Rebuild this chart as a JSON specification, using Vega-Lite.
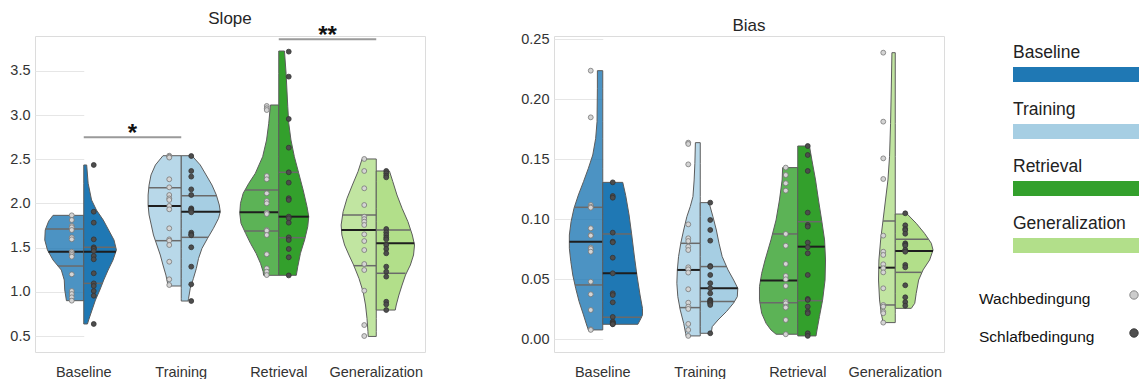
{
"$schema":"https://vega.github.io/schema/vega-lite/v6.json",
"background":"white",
"padding":{"left":9,"top":9,"right":0,"bottom":0},
"config":{
 "font":"Liberation Sans",
 "view":{"stroke":"#dcdcdc"},
 "title":{"font":"Liberation Sans","fontSize":17,"fontWeight":"normal","color":"#262626","offset":-4},
 "axis":{"title":null,"domain":false,"ticks":false,"tickSize":0,"labelFont":"Liberation Sans","labelFontSize":14.5,"labelColor":"#333333","gridColor":"#e6e6e6","gridWidth":1},
 "axisX":{"grid":false,"labelPadding":13,"labelAngle":0},
 "axisY":{"grid":true,"labelPadding":5}
},
"datasets":{
"slope_points":[
{"phase":"Baseline","cond":"Wach","value":1.866},{"phase":"Baseline","cond":"Wach","value":1.813},{"phase":"Baseline","cond":"Wach","value":1.745},{"phase":"Baseline","cond":"Wach","value":1.73},{"phase":"Baseline","cond":"Wach","value":1.7},{"phase":"Baseline","cond":"Wach","value":1.617},{"phase":"Baseline","cond":"Wach","value":1.594},{"phase":"Baseline","cond":"Wach","value":1.454},{"phase":"Baseline","cond":"Wach","value":1.436},{"phase":"Baseline","cond":"Wach","value":1.417},{"phase":"Baseline","cond":"Wach","value":1.398},{"phase":"Baseline","cond":"Wach","value":1.198},{"phase":"Baseline","cond":"Wach","value":1.009},{"phase":"Baseline","cond":"Wach","value":0.975},{"phase":"Baseline","cond":"Wach","value":0.938},{"phase":"Baseline","cond":"Wach","value":0.9},
{"phase":"Baseline","cond":"Schlaf","value":2.436},{"phase":"Baseline","cond":"Schlaf","value":1.907},{"phase":"Baseline","cond":"Schlaf","value":1.783},{"phase":"Baseline","cond":"Schlaf","value":1.594},{"phase":"Baseline","cond":"Schlaf","value":1.504},{"phase":"Baseline","cond":"Schlaf","value":1.492},{"phase":"Baseline","cond":"Schlaf","value":1.485},{"phase":"Baseline","cond":"Schlaf","value":1.462},{"phase":"Baseline","cond":"Schlaf","value":1.406},{"phase":"Baseline","cond":"Schlaf","value":1.368},{"phase":"Baseline","cond":"Schlaf","value":1.21},{"phase":"Baseline","cond":"Schlaf","value":1.096},{"phase":"Baseline","cond":"Schlaf","value":1.066},{"phase":"Baseline","cond":"Schlaf","value":1.009},{"phase":"Baseline","cond":"Schlaf","value":0.956},{"phase":"Baseline","cond":"Schlaf","value":0.636},
{"phase":"Training","cond":"Wach","value":2.541},{"phase":"Training","cond":"Wach","value":2.53},{"phase":"Training","cond":"Wach","value":2.52},{"phase":"Training","cond":"Wach","value":2.274},{"phase":"Training","cond":"Wach","value":2.183},{"phase":"Training","cond":"Wach","value":2.096},{"phase":"Training","cond":"Wach","value":2.058},{"phase":"Training","cond":"Wach","value":2.04},{"phase":"Training","cond":"Wach","value":1.972},{"phase":"Training","cond":"Wach","value":1.934},{"phase":"Training","cond":"Wach","value":1.719},{"phase":"Training","cond":"Wach","value":1.594},{"phase":"Training","cond":"Wach","value":1.579},{"phase":"Training","cond":"Wach","value":1.53},{"phase":"Training","cond":"Wach","value":1.341},{"phase":"Training","cond":"Wach","value":1.142},{"phase":"Training","cond":"Wach","value":1.077},
{"phase":"Training","cond":"Schlaf","value":2.537},{"phase":"Training","cond":"Schlaf","value":2.368},{"phase":"Training","cond":"Schlaf","value":2.304},{"phase":"Training","cond":"Schlaf","value":2.16},{"phase":"Training","cond":"Schlaf","value":2.096},{"phase":"Training","cond":"Schlaf","value":1.945},{"phase":"Training","cond":"Schlaf","value":1.934},{"phase":"Training","cond":"Schlaf","value":1.926},{"phase":"Training","cond":"Schlaf","value":1.915},{"phase":"Training","cond":"Schlaf","value":1.9},{"phase":"Training","cond":"Schlaf","value":1.67},{"phase":"Training","cond":"Schlaf","value":1.651},{"phase":"Training","cond":"Schlaf","value":1.64},{"phase":"Training","cond":"Schlaf","value":1.504},{"phase":"Training","cond":"Schlaf","value":1.285},{"phase":"Training","cond":"Schlaf","value":1.085},{"phase":"Training","cond":"Schlaf","value":0.896},
{"phase":"Retrieval","cond":"Wach","value":3.104},{"phase":"Retrieval","cond":"Wach","value":3.078},{"phase":"Retrieval","cond":"Wach","value":3.058},{"phase":"Retrieval","cond":"Wach","value":2.311},{"phase":"Retrieval","cond":"Wach","value":2.274},{"phase":"Retrieval","cond":"Wach","value":2.115},{"phase":"Retrieval","cond":"Wach","value":2.028},{"phase":"Retrieval","cond":"Wach","value":2.002},{"phase":"Retrieval","cond":"Wach","value":1.896},{"phase":"Retrieval","cond":"Wach","value":1.881},{"phase":"Retrieval","cond":"Wach","value":1.7},{"phase":"Retrieval","cond":"Wach","value":1.692},{"phase":"Retrieval","cond":"Wach","value":1.643},{"phase":"Retrieval","cond":"Wach","value":1.425},{"phase":"Retrieval","cond":"Wach","value":1.266},{"phase":"Retrieval","cond":"Wach","value":1.228},{"phase":"Retrieval","cond":"Wach","value":1.19},
{"phase":"Retrieval","cond":"Schlaf","value":3.719},{"phase":"Retrieval","cond":"Schlaf","value":3.436},{"phase":"Retrieval","cond":"Schlaf","value":2.957},{"phase":"Retrieval","cond":"Schlaf","value":2.632},{"phase":"Retrieval","cond":"Schlaf","value":2.353},{"phase":"Retrieval","cond":"Schlaf","value":2.236},{"phase":"Retrieval","cond":"Schlaf","value":2.059},{"phase":"Retrieval","cond":"Schlaf","value":2.04},{"phase":"Retrieval","cond":"Schlaf","value":1.851},{"phase":"Retrieval","cond":"Schlaf","value":1.832},{"phase":"Retrieval","cond":"Schlaf","value":1.783},{"phase":"Retrieval","cond":"Schlaf","value":1.617},{"phase":"Retrieval","cond":"Schlaf","value":1.587},{"phase":"Retrieval","cond":"Schlaf","value":1.485},{"phase":"Retrieval","cond":"Schlaf","value":1.391},{"phase":"Retrieval","cond":"Schlaf","value":1.186},
{"phase":"Generalization","cond":"Wach","value":2.504},{"phase":"Generalization","cond":"Wach","value":2.368},{"phase":"Generalization","cond":"Wach","value":2.172},{"phase":"Generalization","cond":"Wach","value":1.983},{"phase":"Generalization","cond":"Wach","value":1.851},{"phase":"Generalization","cond":"Wach","value":1.823},{"phase":"Generalization","cond":"Wach","value":1.794},{"phase":"Generalization","cond":"Wach","value":1.757},{"phase":"Generalization","cond":"Wach","value":1.651},{"phase":"Generalization","cond":"Wach","value":1.575},{"phase":"Generalization","cond":"Wach","value":1.473},{"phase":"Generalization","cond":"Wach","value":1.315},{"phase":"Generalization","cond":"Wach","value":1.247},{"phase":"Generalization","cond":"Wach","value":1.013},{"phase":"Generalization","cond":"Wach","value":0.624},{"phase":"Generalization","cond":"Wach","value":0.5},
{"phase":"Generalization","cond":"Schlaf","value":2.368},{"phase":"Generalization","cond":"Schlaf","value":2.342},{"phase":"Generalization","cond":"Schlaf","value":2.315},{"phase":"Generalization","cond":"Schlaf","value":2.296},{"phase":"Generalization","cond":"Schlaf","value":1.711},{"phase":"Generalization","cond":"Schlaf","value":1.674},{"phase":"Generalization","cond":"Schlaf","value":1.643},{"phase":"Generalization","cond":"Schlaf","value":1.613},{"phase":"Generalization","cond":"Schlaf","value":1.594},{"phase":"Generalization","cond":"Schlaf","value":1.53},{"phase":"Generalization","cond":"Schlaf","value":1.485},{"phase":"Generalization","cond":"Schlaf","value":1.436},{"phase":"Generalization","cond":"Schlaf","value":1.285},{"phase":"Generalization","cond":"Schlaf","value":1.228},{"phase":"Generalization","cond":"Schlaf","value":1.172},{"phase":"Generalization","cond":"Schlaf","value":0.888},{"phase":"Generalization","cond":"Schlaf","value":0.858},{"phase":"Generalization","cond":"Schlaf","value":0.794}
],
"bias_points":[
{"phase":"Baseline","cond":"Wach","value":0.2239},{"phase":"Baseline","cond":"Wach","value":0.185},{"phase":"Baseline","cond":"Wach","value":0.1119},{"phase":"Baseline","cond":"Wach","value":0.1105},{"phase":"Baseline","cond":"Wach","value":0.1097},{"phase":"Baseline","cond":"Wach","value":0.0925},{"phase":"Baseline","cond":"Wach","value":0.0869},{"phase":"Baseline","cond":"Wach","value":0.0864},{"phase":"Baseline","cond":"Wach","value":0.0764},{"phase":"Baseline","cond":"Wach","value":0.0753},{"phase":"Baseline","cond":"Wach","value":0.073},{"phase":"Baseline","cond":"Wach","value":0.048},{"phase":"Baseline","cond":"Wach","value":0.0375},{"phase":"Baseline","cond":"Wach","value":0.0244},{"phase":"Baseline","cond":"Wach","value":0.0083},{"phase":"Baseline","cond":"Wach","value":0.0078},
{"phase":"Baseline","cond":"Schlaf","value":0.1308},{"phase":"Baseline","cond":"Schlaf","value":0.1194},{"phase":"Baseline","cond":"Schlaf","value":0.118},{"phase":"Baseline","cond":"Schlaf","value":0.0889},{"phase":"Baseline","cond":"Schlaf","value":0.0814},{"phase":"Baseline","cond":"Schlaf","value":0.0808},{"phase":"Baseline","cond":"Schlaf","value":0.068},{"phase":"Baseline","cond":"Schlaf","value":0.055},{"phase":"Baseline","cond":"Schlaf","value":0.0383},{"phase":"Baseline","cond":"Schlaf","value":0.0369},{"phase":"Baseline","cond":"Schlaf","value":0.0308},{"phase":"Baseline","cond":"Schlaf","value":0.0186},{"phase":"Baseline","cond":"Schlaf","value":0.0147},{"phase":"Baseline","cond":"Schlaf","value":0.0142},{"phase":"Baseline","cond":"Schlaf","value":0.0133},{"phase":"Baseline","cond":"Schlaf","value":0.0128},{"phase":"Baseline","cond":"Schlaf","value":0.0125},
{"phase":"Training","cond":"Wach","value":0.1639},{"phase":"Training","cond":"Wach","value":0.1628},{"phase":"Training","cond":"Wach","value":0.1458},{"phase":"Training","cond":"Wach","value":0.0958},{"phase":"Training","cond":"Wach","value":0.0842},{"phase":"Training","cond":"Wach","value":0.0819},{"phase":"Training","cond":"Wach","value":0.0772},{"phase":"Training","cond":"Wach","value":0.0744},{"phase":"Training","cond":"Wach","value":0.06},{"phase":"Training","cond":"Wach","value":0.0583},{"phase":"Training","cond":"Wach","value":0.0556},{"phase":"Training","cond":"Wach","value":0.0417},{"phase":"Training","cond":"Wach","value":0.0305},{"phase":"Training","cond":"Wach","value":0.0272},{"phase":"Training","cond":"Wach","value":0.0253},{"phase":"Training","cond":"Wach","value":0.0128},{"phase":"Training","cond":"Wach","value":0.0078},{"phase":"Training","cond":"Wach","value":0.0028},
{"phase":"Training","cond":"Schlaf","value":0.1139},{"phase":"Training","cond":"Schlaf","value":0.0994},{"phase":"Training","cond":"Schlaf","value":0.0911},{"phase":"Training","cond":"Schlaf","value":0.0822},{"phase":"Training","cond":"Schlaf","value":0.0611},{"phase":"Training","cond":"Schlaf","value":0.0605},{"phase":"Training","cond":"Schlaf","value":0.0536},{"phase":"Training","cond":"Schlaf","value":0.0467},{"phase":"Training","cond":"Schlaf","value":0.0425},{"phase":"Training","cond":"Schlaf","value":0.0383},{"phase":"Training","cond":"Schlaf","value":0.0328},{"phase":"Training","cond":"Schlaf","value":0.0322},{"phase":"Training","cond":"Schlaf","value":0.0314},{"phase":"Training","cond":"Schlaf","value":0.0306},{"phase":"Training","cond":"Schlaf","value":0.03},{"phase":"Training","cond":"Schlaf","value":0.0286},{"phase":"Training","cond":"Schlaf","value":0.005},
{"phase":"Retrieval","cond":"Wach","value":0.1431},{"phase":"Retrieval","cond":"Wach","value":0.1369},{"phase":"Retrieval","cond":"Wach","value":0.13},{"phase":"Retrieval","cond":"Wach","value":0.1239},{"phase":"Retrieval","cond":"Wach","value":0.0878},{"phase":"Retrieval","cond":"Wach","value":0.078},{"phase":"Retrieval","cond":"Wach","value":0.0628},{"phase":"Retrieval","cond":"Wach","value":0.0528},{"phase":"Retrieval","cond":"Wach","value":0.05},{"phase":"Retrieval","cond":"Wach","value":0.0444},{"phase":"Retrieval","cond":"Wach","value":0.0314},{"phase":"Retrieval","cond":"Wach","value":0.03},{"phase":"Retrieval","cond":"Wach","value":0.0272},{"phase":"Retrieval","cond":"Wach","value":0.0264},{"phase":"Retrieval","cond":"Wach","value":0.0161},{"phase":"Retrieval","cond":"Wach","value":0.0042},
{"phase":"Retrieval","cond":"Schlaf","value":0.1611},{"phase":"Retrieval","cond":"Schlaf","value":0.1536},{"phase":"Retrieval","cond":"Schlaf","value":0.1403},{"phase":"Retrieval","cond":"Schlaf","value":0.1056},{"phase":"Retrieval","cond":"Schlaf","value":0.0953},{"phase":"Retrieval","cond":"Schlaf","value":0.0939},{"phase":"Retrieval","cond":"Schlaf","value":0.0806},{"phase":"Retrieval","cond":"Schlaf","value":0.0767},{"phase":"Retrieval","cond":"Schlaf","value":0.0717},{"phase":"Retrieval","cond":"Schlaf","value":0.0536},{"phase":"Retrieval","cond":"Schlaf","value":0.0336},{"phase":"Retrieval","cond":"Schlaf","value":0.0328},{"phase":"Retrieval","cond":"Schlaf","value":0.0272},{"phase":"Retrieval","cond":"Schlaf","value":0.023},{"phase":"Retrieval","cond":"Schlaf","value":0.0217},{"phase":"Retrieval","cond":"Schlaf","value":0.005},{"phase":"Retrieval","cond":"Schlaf","value":0.0028},
{"phase":"Generalization","cond":"Wach","value":0.2389},{"phase":"Generalization","cond":"Wach","value":0.1814},{"phase":"Generalization","cond":"Wach","value":0.1508},{"phase":"Generalization","cond":"Wach","value":0.1336},{"phase":"Generalization","cond":"Wach","value":0.0864},{"phase":"Generalization","cond":"Wach","value":0.073},{"phase":"Generalization","cond":"Wach","value":0.0703},{"phase":"Generalization","cond":"Wach","value":0.0625},{"phase":"Generalization","cond":"Wach","value":0.0592},{"phase":"Generalization","cond":"Wach","value":0.0558},{"phase":"Generalization","cond":"Wach","value":0.0425},{"phase":"Generalization","cond":"Wach","value":0.0286},{"phase":"Generalization","cond":"Wach","value":0.0272},{"phase":"Generalization","cond":"Wach","value":0.023},{"phase":"Generalization","cond":"Wach","value":0.0217},{"phase":"Generalization","cond":"Wach","value":0.0139},
{"phase":"Generalization","cond":"Schlaf","value":0.105},{"phase":"Generalization","cond":"Schlaf","value":0.095},{"phase":"Generalization","cond":"Schlaf","value":0.092},{"phase":"Generalization","cond":"Schlaf","value":0.091},{"phase":"Generalization","cond":"Schlaf","value":0.088},{"phase":"Generalization","cond":"Schlaf","value":0.08},{"phase":"Generalization","cond":"Schlaf","value":0.079},{"phase":"Generalization","cond":"Schlaf","value":0.078},{"phase":"Generalization","cond":"Schlaf","value":0.074},{"phase":"Generalization","cond":"Schlaf","value":0.0745},{"phase":"Generalization","cond":"Schlaf","value":0.073},{"phase":"Generalization","cond":"Schlaf","value":0.062},{"phase":"Generalization","cond":"Schlaf","value":0.06},{"phase":"Generalization","cond":"Schlaf","value":0.045},{"phase":"Generalization","cond":"Schlaf","value":0.035},{"phase":"Generalization","cond":"Schlaf","value":0.031},{"phase":"Generalization","cond":"Schlaf","value":0.028}
],
"slope_violins":[
{"phase":"Baseline","cond":"Wach","part":"outline","value":1.866,"density":0.63},{"phase":"Baseline","cond":"Wach","part":"outline","value":1.8,"density":0.72},{"phase":"Baseline","cond":"Wach","part":"outline","value":1.7,"density":0.79},{"phase":"Baseline","cond":"Wach","part":"outline","value":1.587,"density":0.8},{"phase":"Baseline","cond":"Wach","part":"outline","value":1.474,"density":0.745},{"phase":"Baseline","cond":"Wach","part":"outline","value":1.36,"density":0.63},{"phase":"Baseline","cond":"Wach","part":"outline","value":1.247,"density":0.46},{"phase":"Baseline","cond":"Wach","part":"outline","value":1.134,"density":0.4},{"phase":"Baseline","cond":"Wach","part":"outline","value":1.021,"density":0.39},{"phase":"Baseline","cond":"Wach","part":"outline","value":0.9,"density":0.355},
{"phase":"Baseline","cond":"Wach","part":"q3","value":1.711,"density":0.78},{"phase":"Baseline","cond":"Wach","part":"median","value":1.455,"density":0.725},{"phase":"Baseline","cond":"Wach","part":"q1","value":1.292,"density":0.53},
{"phase":"Baseline","cond":"Schlaf","part":"outline","value":2.436,"density":0.06},{"phase":"Baseline","cond":"Schlaf","part":"outline","value":2.229,"density":0.09},{"phase":"Baseline","cond":"Schlaf","part":"outline","value":2.04,"density":0.16},{"phase":"Baseline","cond":"Schlaf","part":"outline","value":1.926,"density":0.26},{"phase":"Baseline","cond":"Schlaf","part":"outline","value":1.813,"density":0.4},{"phase":"Baseline","cond":"Schlaf","part":"outline","value":1.7,"density":0.51},{"phase":"Baseline","cond":"Schlaf","part":"outline","value":1.587,"density":0.62},{"phase":"Baseline","cond":"Schlaf","part":"outline","value":1.474,"density":0.67},{"phase":"Baseline","cond":"Schlaf","part":"outline","value":1.36,"density":0.6},{"phase":"Baseline","cond":"Schlaf","part":"outline","value":1.247,"density":0.5},{"phase":"Baseline","cond":"Schlaf","part":"outline","value":1.134,"density":0.41},{"phase":"Baseline","cond":"Schlaf","part":"outline","value":1.021,"density":0.33},{"phase":"Baseline","cond":"Schlaf","part":"outline","value":0.907,"density":0.24},{"phase":"Baseline","cond":"Schlaf","part":"outline","value":0.794,"density":0.17},{"phase":"Baseline","cond":"Schlaf","part":"outline","value":0.681,"density":0.1},{"phase":"Baseline","cond":"Schlaf","part":"outline","value":0.636,"density":0.076},
{"phase":"Baseline","cond":"Schlaf","part":"q3","value":1.504,"density":0.657},{"phase":"Baseline","cond":"Schlaf","part":"median","value":1.455,"density":0.66},{"phase":"Baseline","cond":"Schlaf","part":"q1","value":1.096,"density":0.383},
{"phase":"Training","cond":"Wach","part":"outline","value":2.541,"density":0.375},{"phase":"Training","cond":"Wach","part":"outline","value":2.436,"density":0.53},{"phase":"Training","cond":"Wach","part":"outline","value":2.323,"density":0.62},{"phase":"Training","cond":"Wach","part":"outline","value":2.209,"density":0.66},{"phase":"Training","cond":"Wach","part":"outline","value":2.096,"density":0.68},{"phase":"Training","cond":"Wach","part":"outline","value":1.983,"density":0.68},{"phase":"Training","cond":"Wach","part":"outline","value":1.87,"density":0.66},{"phase":"Training","cond":"Wach","part":"outline","value":1.757,"density":0.615},{"phase":"Training","cond":"Wach","part":"outline","value":1.643,"density":0.57},{"phase":"Training","cond":"Wach","part":"outline","value":1.53,"density":0.5},{"phase":"Training","cond":"Wach","part":"outline","value":1.417,"density":0.43},{"phase":"Training","cond":"Wach","part":"outline","value":1.304,"density":0.375},{"phase":"Training","cond":"Wach","part":"outline","value":1.19,"density":0.315},{"phase":"Training","cond":"Wach","part":"outline","value":1.096,"density":0.28},{"phase":"Training","cond":"Wach","part":"outline","value":1.066,"density":0.26},
{"phase":"Training","cond":"Wach","part":"q3","value":2.179,"density":0.665},{"phase":"Training","cond":"Wach","part":"median","value":1.972,"density":0.68},{"phase":"Training","cond":"Wach","part":"q1","value":1.579,"density":0.535},
{"phase":"Training","cond":"Schlaf","part":"outline","value":2.541,"density":0.22},{"phase":"Training","cond":"Schlaf","part":"outline","value":2.436,"density":0.39},{"phase":"Training","cond":"Schlaf","part":"outline","value":2.323,"density":0.51},{"phase":"Training","cond":"Schlaf","part":"outline","value":2.209,"density":0.63},{"phase":"Training","cond":"Schlaf","part":"outline","value":2.096,"density":0.72},{"phase":"Training","cond":"Schlaf","part":"outline","value":1.983,"density":0.78},{"phase":"Training","cond":"Schlaf","part":"outline","value":1.907,"density":0.8},{"phase":"Training","cond":"Schlaf","part":"outline","value":1.832,"density":0.765},{"phase":"Training","cond":"Schlaf","part":"outline","value":1.719,"density":0.66},{"phase":"Training","cond":"Schlaf","part":"outline","value":1.606,"density":0.54},{"phase":"Training","cond":"Schlaf","part":"outline","value":1.492,"density":0.425},{"phase":"Training","cond":"Schlaf","part":"outline","value":1.379,"density":0.355},{"phase":"Training","cond":"Schlaf","part":"outline","value":1.266,"density":0.31},{"phase":"Training","cond":"Schlaf","part":"outline","value":1.153,"density":0.25},{"phase":"Training","cond":"Schlaf","part":"outline","value":1.04,"density":0.185},{"phase":"Training","cond":"Schlaf","part":"outline","value":0.926,"density":0.15},{"phase":"Training","cond":"Schlaf","part":"outline","value":0.896,"density":0.14},
{"phase":"Training","cond":"Schlaf","part":"q3","value":2.088,"density":0.725},{"phase":"Training","cond":"Schlaf","part":"median","value":1.907,"density":0.8},{"phase":"Training","cond":"Schlaf","part":"q1","value":1.617,"density":0.55},
{"phase":"Retrieval","cond":"Wach","part":"outline","value":3.115,"density":0.17},{"phase":"Retrieval","cond":"Wach","part":"outline","value":2.908,"density":0.205},{"phase":"Retrieval","cond":"Wach","part":"outline","value":2.719,"density":0.25},{"phase":"Retrieval","cond":"Wach","part":"outline","value":2.53,"density":0.33},{"phase":"Retrieval","cond":"Wach","part":"outline","value":2.342,"density":0.48},{"phase":"Retrieval","cond":"Wach","part":"outline","value":2.228,"density":0.615},{"phase":"Retrieval","cond":"Wach","part":"outline","value":2.115,"density":0.73},{"phase":"Retrieval","cond":"Wach","part":"outline","value":2.002,"density":0.785},{"phase":"Retrieval","cond":"Wach","part":"outline","value":1.889,"density":0.8},{"phase":"Retrieval","cond":"Wach","part":"outline","value":1.775,"density":0.775},{"phase":"Retrieval","cond":"Wach","part":"outline","value":1.662,"density":0.68},{"phase":"Retrieval","cond":"Wach","part":"outline","value":1.549,"density":0.58},{"phase":"Retrieval","cond":"Wach","part":"outline","value":1.436,"density":0.465},{"phase":"Retrieval","cond":"Wach","part":"outline","value":1.323,"density":0.375},{"phase":"Retrieval","cond":"Wach","part":"outline","value":1.228,"density":0.32},{"phase":"Retrieval","cond":"Wach","part":"outline","value":1.187,"density":0.31},
{"phase":"Retrieval","cond":"Wach","part":"q3","value":2.153,"density":0.69},{"phase":"Retrieval","cond":"Wach","part":"median","value":1.9,"density":0.8},{"phase":"Retrieval","cond":"Wach","part":"q1","value":1.689,"density":0.7},
{"phase":"Retrieval","cond":"Schlaf","part":"outline","value":3.726,"density":0.117},{"phase":"Retrieval","cond":"Schlaf","part":"outline","value":3.474,"density":0.15},{"phase":"Retrieval","cond":"Schlaf","part":"outline","value":3.096,"density":0.185},{"phase":"Retrieval","cond":"Schlaf","part":"outline","value":2.908,"density":0.205},{"phase":"Retrieval","cond":"Schlaf","part":"outline","value":2.719,"density":0.25},{"phase":"Retrieval","cond":"Schlaf","part":"outline","value":2.53,"density":0.32},{"phase":"Retrieval","cond":"Schlaf","part":"outline","value":2.342,"density":0.41},{"phase":"Retrieval","cond":"Schlaf","part":"outline","value":2.153,"density":0.5},{"phase":"Retrieval","cond":"Schlaf","part":"outline","value":1.964,"density":0.58},{"phase":"Retrieval","cond":"Schlaf","part":"outline","value":1.851,"density":0.615},{"phase":"Retrieval","cond":"Schlaf","part":"outline","value":1.738,"density":0.595},{"phase":"Retrieval","cond":"Schlaf","part":"outline","value":1.587,"density":0.53},{"phase":"Retrieval","cond":"Schlaf","part":"outline","value":1.436,"density":0.445},{"phase":"Retrieval","cond":"Schlaf","part":"outline","value":1.285,"density":0.39},{"phase":"Retrieval","cond":"Schlaf","part":"outline","value":1.187,"density":0.36},
{"phase":"Retrieval","cond":"Schlaf","part":"q3","value":2.353,"density":0.405},{"phase":"Retrieval","cond":"Schlaf","part":"median","value":1.851,"density":0.615},{"phase":"Retrieval","cond":"Schlaf","part":"q1","value":1.613,"density":0.54},
{"phase":"Generalization","cond":"Wach","part":"outline","value":2.504,"density":0.29},{"phase":"Generalization","cond":"Wach","part":"outline","value":2.36,"density":0.375},{"phase":"Generalization","cond":"Wach","part":"outline","value":2.209,"density":0.49},{"phase":"Generalization","cond":"Wach","part":"outline","value":2.058,"density":0.6},{"phase":"Generalization","cond":"Wach","part":"outline","value":1.907,"density":0.68},{"phase":"Generalization","cond":"Wach","part":"outline","value":1.757,"density":0.72},{"phase":"Generalization","cond":"Wach","part":"outline","value":1.643,"density":0.705},{"phase":"Generalization","cond":"Wach","part":"outline","value":1.53,"density":0.65},{"phase":"Generalization","cond":"Wach","part":"outline","value":1.417,"density":0.56},{"phase":"Generalization","cond":"Wach","part":"outline","value":1.304,"density":0.465},{"phase":"Generalization","cond":"Wach","part":"outline","value":1.153,"density":0.355},{"phase":"Generalization","cond":"Wach","part":"outline","value":1.002,"density":0.27},{"phase":"Generalization","cond":"Wach","part":"outline","value":0.851,"density":0.22},{"phase":"Generalization","cond":"Wach","part":"outline","value":0.7,"density":0.19},{"phase":"Generalization","cond":"Wach","part":"outline","value":0.549,"density":0.17},{"phase":"Generalization","cond":"Wach","part":"outline","value":0.495,"density":0.165},
{"phase":"Generalization","cond":"Wach","part":"q3","value":1.87,"density":0.69},{"phase":"Generalization","cond":"Wach","part":"median","value":1.7,"density":0.715},{"phase":"Generalization","cond":"Wach","part":"q1","value":1.296,"density":0.46},
{"phase":"Generalization","cond":"Schlaf","part":"outline","value":2.368,"density":0.27},{"phase":"Generalization","cond":"Schlaf","part":"outline","value":2.247,"density":0.34},{"phase":"Generalization","cond":"Schlaf","part":"outline","value":2.096,"density":0.425},{"phase":"Generalization","cond":"Schlaf","part":"outline","value":1.945,"density":0.53},{"phase":"Generalization","cond":"Schlaf","part":"outline","value":1.794,"density":0.65},{"phase":"Generalization","cond":"Schlaf","part":"outline","value":1.643,"density":0.74},{"phase":"Generalization","cond":"Schlaf","part":"outline","value":1.53,"density":0.785},{"phase":"Generalization","cond":"Schlaf","part":"outline","value":1.417,"density":0.765},{"phase":"Generalization","cond":"Schlaf","part":"outline","value":1.304,"density":0.7},{"phase":"Generalization","cond":"Schlaf","part":"outline","value":1.19,"density":0.6},{"phase":"Generalization","cond":"Schlaf","part":"outline","value":1.077,"density":0.53},{"phase":"Generalization","cond":"Schlaf","part":"outline","value":0.964,"density":0.465},{"phase":"Generalization","cond":"Schlaf","part":"outline","value":0.851,"density":0.41},{"phase":"Generalization","cond":"Schlaf","part":"outline","value":0.794,"density":0.39},
{"phase":"Generalization","cond":"Schlaf","part":"q3","value":1.7,"density":0.7},{"phase":"Generalization","cond":"Schlaf","part":"median","value":1.549,"density":0.78},{"phase":"Generalization","cond":"Schlaf","part":"q1","value":1.21,"density":0.6}
],
"bias_violins":[
{"phase":"Baseline","cond":"Wach","part":"outline","value":0.2239,"density":0.11},{"phase":"Baseline","cond":"Wach","part":"outline","value":0.2092,"density":0.11},{"phase":"Baseline","cond":"Wach","part":"outline","value":0.1814,"density":0.117},{"phase":"Baseline","cond":"Wach","part":"outline","value":0.1675,"density":0.145},{"phase":"Baseline","cond":"Wach","part":"outline","value":0.1536,"density":0.205},{"phase":"Baseline","cond":"Wach","part":"outline","value":0.1425,"density":0.295},{"phase":"Baseline","cond":"Wach","part":"outline","value":0.1314,"density":0.395},{"phase":"Baseline","cond":"Wach","part":"outline","value":0.1203,"density":0.5},{"phase":"Baseline","cond":"Wach","part":"outline","value":0.1092,"density":0.59},{"phase":"Baseline","cond":"Wach","part":"outline","value":0.098,"density":0.65},{"phase":"Baseline","cond":"Wach","part":"outline","value":0.0869,"density":0.685},{"phase":"Baseline","cond":"Wach","part":"outline","value":0.0758,"density":0.685},{"phase":"Baseline","cond":"Wach","part":"outline","value":0.0647,"density":0.655},{"phase":"Baseline","cond":"Wach","part":"outline","value":0.0536,"density":0.615},{"phase":"Baseline","cond":"Wach","part":"outline","value":0.0425,"density":0.555},{"phase":"Baseline","cond":"Wach","part":"outline","value":0.0314,"density":0.485},{"phase":"Baseline","cond":"Wach","part":"outline","value":0.0203,"density":0.395},{"phase":"Baseline","cond":"Wach","part":"outline","value":0.0119,"density":0.33},{"phase":"Baseline","cond":"Wach","part":"outline","value":0.0078,"density":0.295},
{"phase":"Baseline","cond":"Wach","part":"q3","value":0.11,"density":0.585},{"phase":"Baseline","cond":"Wach","part":"median","value":0.0813,"density":0.685},{"phase":"Baseline","cond":"Wach","part":"q1","value":0.0453,"density":0.57},
{"phase":"Baseline","cond":"Schlaf","part":"outline","value":0.1308,"density":0.41},{"phase":"Baseline","cond":"Schlaf","part":"outline","value":0.12,"density":0.47},{"phase":"Baseline","cond":"Schlaf","part":"outline","value":0.1036,"density":0.54},{"phase":"Baseline","cond":"Schlaf","part":"outline","value":0.0869,"density":0.595},{"phase":"Baseline","cond":"Schlaf","part":"outline","value":0.0703,"density":0.645},{"phase":"Baseline","cond":"Schlaf","part":"outline","value":0.0536,"density":0.7},{"phase":"Baseline","cond":"Schlaf","part":"outline","value":0.0369,"density":0.765},{"phase":"Baseline","cond":"Schlaf","part":"outline","value":0.0258,"density":0.815},{"phase":"Baseline","cond":"Schlaf","part":"outline","value":0.0203,"density":0.815},{"phase":"Baseline","cond":"Schlaf","part":"outline","value":0.0175,"density":0.785},{"phase":"Baseline","cond":"Schlaf","part":"outline","value":0.0125,"density":0.72},
{"phase":"Baseline","cond":"Schlaf","part":"q3","value":0.0878,"density":0.595},{"phase":"Baseline","cond":"Schlaf","part":"median","value":0.055,"density":0.7},{"phase":"Baseline","cond":"Schlaf","part":"q1","value":0.0183,"density":0.8},
{"phase":"Training","cond":"Wach","part":"outline","value":0.1639,"density":0.1},{"phase":"Training","cond":"Wach","part":"outline","value":0.1467,"density":0.11},{"phase":"Training","cond":"Wach","part":"outline","value":0.1328,"density":0.125},{"phase":"Training","cond":"Wach","part":"outline","value":0.1189,"density":0.15},{"phase":"Training","cond":"Wach","part":"outline","value":0.1106,"density":0.205},{"phase":"Training","cond":"Wach","part":"outline","value":0.1022,"density":0.275},{"phase":"Training","cond":"Wach","part":"outline","value":0.0911,"density":0.34},{"phase":"Training","cond":"Wach","part":"outline","value":0.08,"density":0.4},{"phase":"Training","cond":"Wach","part":"outline","value":0.0689,"density":0.445},{"phase":"Training","cond":"Wach","part":"outline","value":0.0578,"density":0.47},{"phase":"Training","cond":"Wach","part":"outline","value":0.0467,"density":0.48},{"phase":"Training","cond":"Wach","part":"outline","value":0.0355,"density":0.46},{"phase":"Training","cond":"Wach","part":"outline","value":0.0244,"density":0.41},{"phase":"Training","cond":"Wach","part":"outline","value":0.0133,"density":0.34},{"phase":"Training","cond":"Wach","part":"outline","value":0.005,"density":0.3},{"phase":"Training","cond":"Wach","part":"outline","value":0.0028,"density":0.29},
{"phase":"Training","cond":"Wach","part":"q3","value":0.08,"density":0.4},{"phase":"Training","cond":"Wach","part":"median","value":0.0578,"density":0.47},{"phase":"Training","cond":"Wach","part":"q1","value":0.0264,"density":0.42},
{"phase":"Training","cond":"Schlaf","part":"outline","value":0.1139,"density":0.18},{"phase":"Training","cond":"Schlaf","part":"outline","value":0.1022,"density":0.26},{"phase":"Training","cond":"Schlaf","part":"outline","value":0.0911,"density":0.33},{"phase":"Training","cond":"Schlaf","part":"outline","value":0.08,"density":0.385},{"phase":"Training","cond":"Schlaf","part":"outline","value":0.0689,"density":0.45},{"phase":"Training","cond":"Schlaf","part":"outline","value":0.0578,"density":0.57},{"phase":"Training","cond":"Schlaf","part":"outline","value":0.0494,"density":0.685},{"phase":"Training","cond":"Schlaf","part":"outline","value":0.0425,"density":0.77},{"phase":"Training","cond":"Schlaf","part":"outline","value":0.0355,"density":0.76},{"phase":"Training","cond":"Schlaf","part":"outline","value":0.03,"density":0.68},{"phase":"Training","cond":"Schlaf","part":"outline","value":0.023,"density":0.535},{"phase":"Training","cond":"Schlaf","part":"outline","value":0.0161,"density":0.365},{"phase":"Training","cond":"Schlaf","part":"outline","value":0.0105,"density":0.245},{"phase":"Training","cond":"Schlaf","part":"outline","value":0.005,"density":0.225},
{"phase":"Training","cond":"Schlaf","part":"q3","value":0.0606,"density":0.535},{"phase":"Training","cond":"Schlaf","part":"median","value":0.0425,"density":0.77},{"phase":"Training","cond":"Schlaf","part":"q1","value":0.0314,"density":0.7},
{"phase":"Retrieval","cond":"Wach","part":"outline","value":0.1431,"density":0.31},{"phase":"Retrieval","cond":"Wach","part":"outline","value":0.1328,"density":0.32},{"phase":"Retrieval","cond":"Wach","part":"outline","value":0.1161,"density":0.375},{"phase":"Retrieval","cond":"Wach","part":"outline","value":0.0994,"density":0.445},{"phase":"Retrieval","cond":"Wach","part":"outline","value":0.0828,"density":0.55},{"phase":"Retrieval","cond":"Wach","part":"outline","value":0.0661,"density":0.67},{"phase":"Retrieval","cond":"Wach","part":"outline","value":0.055,"density":0.74},{"phase":"Retrieval","cond":"Wach","part":"outline","value":0.0439,"density":0.785},{"phase":"Retrieval","cond":"Wach","part":"outline","value":0.0328,"density":0.785},{"phase":"Retrieval","cond":"Wach","part":"outline","value":0.0217,"density":0.74},{"phase":"Retrieval","cond":"Wach","part":"outline","value":0.0133,"density":0.65},{"phase":"Retrieval","cond":"Wach","part":"outline","value":0.0078,"density":0.55},{"phase":"Retrieval","cond":"Wach","part":"outline","value":0.0042,"density":0.445},
{"phase":"Retrieval","cond":"Wach","part":"q3","value":0.0878,"density":0.52},{"phase":"Retrieval","cond":"Wach","part":"median","value":0.0489,"density":0.77},{"phase":"Retrieval","cond":"Wach","part":"q1","value":0.0305,"density":0.78},
{"phase":"Retrieval","cond":"Schlaf","part":"outline","value":0.1611,"density":0.24},{"phase":"Retrieval","cond":"Schlaf","part":"outline","value":0.1494,"density":0.29},{"phase":"Retrieval","cond":"Schlaf","part":"outline","value":0.1328,"density":0.365},{"phase":"Retrieval","cond":"Schlaf","part":"outline","value":0.1161,"density":0.425},{"phase":"Retrieval","cond":"Schlaf","part":"outline","value":0.0994,"density":0.49},{"phase":"Retrieval","cond":"Schlaf","part":"outline","value":0.0828,"density":0.55},{"phase":"Retrieval","cond":"Schlaf","part":"outline","value":0.0661,"density":0.57},{"phase":"Retrieval","cond":"Schlaf","part":"outline","value":0.0494,"density":0.56},{"phase":"Retrieval","cond":"Schlaf","part":"outline","value":0.0328,"density":0.51},{"phase":"Retrieval","cond":"Schlaf","part":"outline","value":0.0189,"density":0.445},{"phase":"Retrieval","cond":"Schlaf","part":"outline","value":0.0078,"density":0.395},{"phase":"Retrieval","cond":"Schlaf","part":"outline","value":0.0028,"density":0.375},
{"phase":"Retrieval","cond":"Schlaf","part":"q3","value":0.098,"density":0.495},{"phase":"Retrieval","cond":"Schlaf","part":"median","value":0.0772,"density":0.555},{"phase":"Retrieval","cond":"Schlaf","part":"q1","value":0.0322,"density":0.51},
{"phase":"Generalization","cond":"Wach","part":"outline","value":0.2389,"density":0.068},{"phase":"Generalization","cond":"Wach","part":"outline","value":0.2078,"density":0.082},{"phase":"Generalization","cond":"Wach","part":"outline","value":0.18,"density":0.096},{"phase":"Generalization","cond":"Wach","part":"outline","value":0.1522,"density":0.117},{"phase":"Generalization","cond":"Wach","part":"outline","value":0.1328,"density":0.15},{"phase":"Generalization","cond":"Wach","part":"outline","value":0.1161,"density":0.2},{"phase":"Generalization","cond":"Wach","part":"outline","value":0.0994,"density":0.25},{"phase":"Generalization","cond":"Wach","part":"outline","value":0.0828,"density":0.3},{"phase":"Generalization","cond":"Wach","part":"outline","value":0.0661,"density":0.335},{"phase":"Generalization","cond":"Wach","part":"outline","value":0.0494,"density":0.343},{"phase":"Generalization","cond":"Wach","part":"outline","value":0.0328,"density":0.322},{"phase":"Generalization","cond":"Wach","part":"outline","value":0.0217,"density":0.287},{"phase":"Generalization","cond":"Wach","part":"outline","value":0.0139,"density":0.25},
{"phase":"Generalization","cond":"Wach","part":"q3","value":0.0986,"density":0.25},{"phase":"Generalization","cond":"Wach","part":"median","value":0.0597,"density":0.34},{"phase":"Generalization","cond":"Wach","part":"q1","value":0.0286,"density":0.31},
{"phase":"Generalization","cond":"Schlaf","part":"outline","value":0.1044,"density":0.245},{"phase":"Generalization","cond":"Schlaf","part":"outline","value":0.0967,"density":0.43},{"phase":"Generalization","cond":"Schlaf","part":"outline","value":0.0883,"density":0.6},{"phase":"Generalization","cond":"Schlaf","part":"outline","value":0.08,"density":0.74},{"phase":"Generalization","cond":"Schlaf","part":"outline","value":0.0744,"density":0.775},{"phase":"Generalization","cond":"Schlaf","part":"outline","value":0.0661,"density":0.705},{"phase":"Generalization","cond":"Schlaf","part":"outline","value":0.0578,"density":0.57},{"phase":"Generalization","cond":"Schlaf","part":"outline","value":0.0494,"density":0.48},{"phase":"Generalization","cond":"Schlaf","part":"outline","value":0.0383,"density":0.43},{"phase":"Generalization","cond":"Schlaf","part":"outline","value":0.03,"density":0.4},{"phase":"Generalization","cond":"Schlaf","part":"outline","value":0.0258,"density":0.33},
{"phase":"Generalization","cond":"Schlaf","part":"q3","value":0.0833,"density":0.68},{"phase":"Generalization","cond":"Schlaf","part":"median","value":0.0736,"density":0.775},{"phase":"Generalization","cond":"Schlaf","part":"q1","value":0.0558,"density":0.54}
],
"slope_sig":[{"from":"Baseline","to":"Training","value":2.75,"label":"*"},{"from":"Retrieval","to":"Generalization","value":3.86,"label":"**"}]
},
"spacing":34,
"hconcat":[
{"spacing":94,"hconcat":[
{"title":"Slope","width":390,"height":316,
 "encoding":{"y":{"field":"value","type":"quantitative","scale":{"domain":[0.319,3.896],"nice":false,"zero":false},"axis":{"values":[0.5,1,1.5,2,2.5,3,3.5],"format":".1f"}}},
 "layer":[
  {"data":{"name":"slope_violins"},"transform":[{"filter":"datum.phase==='Baseline' && datum.cond==='Wach'"}],"encoding":{"x":{"field":"density","type":"quantitative","stack":null,"scale":{"domain":[0,1],"range":[48.75,0]},"axis":null}},"layer":[{"transform":[{"filter":"datum.part==='outline'"}],"mark":{"type":"area","orient":"horizontal","fill":"#1f78b4","fillOpacity":0.8,"stroke":"#5c5c5c","strokeWidth":1},"encoding":{}},{"transform":[{"filter":"datum.part!=='outline'"}],"mark":{"type":"rule"},"encoding":{"x2":{"datum":0},"stroke":{"condition":{"test":"datum.part==='median'","value":"#1e1e1e"},"value":"#6a6a6a"},"strokeWidth":{"condition":{"test":"datum.part==='median'","value":2},"value":1.5}}}]},
  {"data":{"name":"slope_violins"},"transform":[{"filter":"datum.phase==='Baseline' && datum.cond==='Schlaf'"}],"encoding":{"x":{"field":"density","type":"quantitative","stack":null,"scale":{"domain":[0,1],"range":[48.75,97.5]},"axis":null}},"layer":[{"transform":[{"filter":"datum.part==='outline'"}],"mark":{"type":"area","orient":"horizontal","fill":"#1f78b4","fillOpacity":1,"stroke":"#5c5c5c","strokeWidth":1},"encoding":{}},{"transform":[{"filter":"datum.part!=='outline'"}],"mark":{"type":"rule"},"encoding":{"x2":{"datum":0},"stroke":{"condition":{"test":"datum.part==='median'","value":"#1e1e1e"},"value":"#6a6a6a"},"strokeWidth":{"condition":{"test":"datum.part==='median'","value":2},"value":1.5}}}]},
  {"data":{"name":"slope_violins"},"transform":[{"filter":"datum.phase==='Training' && datum.cond==='Wach'"}],"encoding":{"x":{"field":"density","type":"quantitative","stack":null,"scale":{"domain":[0,1],"range":[146.25,97.5]},"axis":null}},"layer":[{"transform":[{"filter":"datum.part==='outline'"}],"mark":{"type":"area","orient":"horizontal","fill":"#a6cee3","fillOpacity":0.8,"stroke":"#5c5c5c","strokeWidth":1},"encoding":{}},{"transform":[{"filter":"datum.part!=='outline'"}],"mark":{"type":"rule"},"encoding":{"x2":{"datum":0},"stroke":{"condition":{"test":"datum.part==='median'","value":"#1e1e1e"},"value":"#6a6a6a"},"strokeWidth":{"condition":{"test":"datum.part==='median'","value":2},"value":1.5}}}]},
  {"data":{"name":"slope_violins"},"transform":[{"filter":"datum.phase==='Training' && datum.cond==='Schlaf'"}],"encoding":{"x":{"field":"density","type":"quantitative","stack":null,"scale":{"domain":[0,1],"range":[146.25,195]},"axis":null}},"layer":[{"transform":[{"filter":"datum.part==='outline'"}],"mark":{"type":"area","orient":"horizontal","fill":"#a6cee3","fillOpacity":1,"stroke":"#5c5c5c","strokeWidth":1},"encoding":{}},{"transform":[{"filter":"datum.part!=='outline'"}],"mark":{"type":"rule"},"encoding":{"x2":{"datum":0},"stroke":{"condition":{"test":"datum.part==='median'","value":"#1e1e1e"},"value":"#6a6a6a"},"strokeWidth":{"condition":{"test":"datum.part==='median'","value":2},"value":1.5}}}]},
  {"data":{"name":"slope_violins"},"transform":[{"filter":"datum.phase==='Retrieval' && datum.cond==='Wach'"}],"encoding":{"x":{"field":"density","type":"quantitative","stack":null,"scale":{"domain":[0,1],"range":[243.75,195]},"axis":null}},"layer":[{"transform":[{"filter":"datum.part==='outline'"}],"mark":{"type":"area","orient":"horizontal","fill":"#33a02c","fillOpacity":0.8,"stroke":"#5c5c5c","strokeWidth":1},"encoding":{}},{"transform":[{"filter":"datum.part!=='outline'"}],"mark":{"type":"rule"},"encoding":{"x2":{"datum":0},"stroke":{"condition":{"test":"datum.part==='median'","value":"#1e1e1e"},"value":"#6a6a6a"},"strokeWidth":{"condition":{"test":"datum.part==='median'","value":2},"value":1.5}}}]},
  {"data":{"name":"slope_violins"},"transform":[{"filter":"datum.phase==='Retrieval' && datum.cond==='Schlaf'"}],"encoding":{"x":{"field":"density","type":"quantitative","stack":null,"scale":{"domain":[0,1],"range":[243.75,292.5]},"axis":null}},"layer":[{"transform":[{"filter":"datum.part==='outline'"}],"mark":{"type":"area","orient":"horizontal","fill":"#33a02c","fillOpacity":1,"stroke":"#5c5c5c","strokeWidth":1},"encoding":{}},{"transform":[{"filter":"datum.part!=='outline'"}],"mark":{"type":"rule"},"encoding":{"x2":{"datum":0},"stroke":{"condition":{"test":"datum.part==='median'","value":"#1e1e1e"},"value":"#6a6a6a"},"strokeWidth":{"condition":{"test":"datum.part==='median'","value":2},"value":1.5}}}]},
  {"data":{"name":"slope_violins"},"transform":[{"filter":"datum.phase==='Generalization' && datum.cond==='Wach'"}],"encoding":{"x":{"field":"density","type":"quantitative","stack":null,"scale":{"domain":[0,1],"range":[341.25,292.5]},"axis":null}},"layer":[{"transform":[{"filter":"datum.part==='outline'"}],"mark":{"type":"area","orient":"horizontal","fill":"#b2df8a","fillOpacity":0.8,"stroke":"#5c5c5c","strokeWidth":1},"encoding":{}},{"transform":[{"filter":"datum.part!=='outline'"}],"mark":{"type":"rule"},"encoding":{"x2":{"datum":0},"stroke":{"condition":{"test":"datum.part==='median'","value":"#1e1e1e"},"value":"#6a6a6a"},"strokeWidth":{"condition":{"test":"datum.part==='median'","value":2},"value":1.5}}}]},
  {"data":{"name":"slope_violins"},"transform":[{"filter":"datum.phase==='Generalization' && datum.cond==='Schlaf'"}],"encoding":{"x":{"field":"density","type":"quantitative","stack":null,"scale":{"domain":[0,1],"range":[341.25,390]},"axis":null}},"layer":[{"transform":[{"filter":"datum.part==='outline'"}],"mark":{"type":"area","orient":"horizontal","fill":"#b2df8a","fillOpacity":1,"stroke":"#5c5c5c","strokeWidth":1},"encoding":{}},{"transform":[{"filter":"datum.part!=='outline'"}],"mark":{"type":"rule"},"encoding":{"x2":{"datum":0},"stroke":{"condition":{"test":"datum.part==='median'","value":"#1e1e1e"},"value":"#6a6a6a"},"strokeWidth":{"condition":{"test":"datum.part==='median'","value":2},"value":1.5}}}]},
  {"data":{"name":"slope_points"},"mark":{"type":"circle","size":24,"opacity":1,"strokeWidth":0.8},
   "encoding":{"x":{"field":"phase","type":"nominal","scale":{"type":"band","domain":["Baseline","Training","Retrieval","Generalization"],"paddingInner":0,"paddingOuter":0},"axis":{"labelAngle":0}},
    "xOffset":{"field":"cond","type":"nominal","scale":{"type":"point","domain":["Wach","Schlaf"],"range":[36.75,58.75],"padding":0}},
    "fill":{"condition":{"test":"datum.cond==='Wach'","value":"#d4d4d4"},"value":"#4d4d4d"},
    "stroke":{"condition":{"test":"datum.cond==='Wach'","value":"#777777"},"value":"#333333"}}},
  {"data":{"name":"slope_sig"},"mark":{"type":"rule","stroke":"#9a9a9a","strokeWidth":2},
   "encoding":{"x":{"field":"from","type":"nominal","scale":{"type":"point","domain":["Baseline","Training","Retrieval","Generalization"],"padding":0.5},"axis":null},"x2":{"field":"to"}}},
  {"data":{"name":"slope_sig"},"mark":{"type":"text","fontSize":24,"fontWeight":"bold","baseline":"alphabetic","dy":4,"color":"#111111"},
   "encoding":{"x":{"field":"from","type":"nominal","bandPosition":1,"scale":{"type":"band","domain":["Baseline","Training","Retrieval","Generalization"],"paddingInner":0,"paddingOuter":0},"axis":null},"text":{"field":"label"}}}
 ],
 "resolve":{"scale":{"x":"independent"}}
},
{"title":"Bias","width":390,"height":316,
 "encoding":{"y":{"field":"value","type":"quantitative","scale":{"domain":[-0.0106,0.2528],"nice":false,"zero":false},"axis":{"values":[0,0.05,0.1,0.15,0.2,0.25],"format":".2f"}}},
 "layer":[
  {"data":{"name":"bias_violins"},"transform":[{"filter":"datum.phase==='Baseline' && datum.cond==='Wach'"}],"encoding":{"x":{"field":"density","type":"quantitative","stack":null,"scale":{"domain":[0,1],"range":[48.75,0]},"axis":null}},"layer":[{"transform":[{"filter":"datum.part==='outline'"}],"mark":{"type":"area","orient":"horizontal","fill":"#1f78b4","fillOpacity":0.8,"stroke":"#5c5c5c","strokeWidth":1},"encoding":{}},{"transform":[{"filter":"datum.part!=='outline'"}],"mark":{"type":"rule"},"encoding":{"x2":{"datum":0},"stroke":{"condition":{"test":"datum.part==='median'","value":"#1e1e1e"},"value":"#6a6a6a"},"strokeWidth":{"condition":{"test":"datum.part==='median'","value":2},"value":1.5}}}]},
  {"data":{"name":"bias_violins"},"transform":[{"filter":"datum.phase==='Baseline' && datum.cond==='Schlaf'"}],"encoding":{"x":{"field":"density","type":"quantitative","stack":null,"scale":{"domain":[0,1],"range":[48.75,97.5]},"axis":null}},"layer":[{"transform":[{"filter":"datum.part==='outline'"}],"mark":{"type":"area","orient":"horizontal","fill":"#1f78b4","fillOpacity":1,"stroke":"#5c5c5c","strokeWidth":1},"encoding":{}},{"transform":[{"filter":"datum.part!=='outline'"}],"mark":{"type":"rule"},"encoding":{"x2":{"datum":0},"stroke":{"condition":{"test":"datum.part==='median'","value":"#1e1e1e"},"value":"#6a6a6a"},"strokeWidth":{"condition":{"test":"datum.part==='median'","value":2},"value":1.5}}}]},
  {"data":{"name":"bias_violins"},"transform":[{"filter":"datum.phase==='Training' && datum.cond==='Wach'"}],"encoding":{"x":{"field":"density","type":"quantitative","stack":null,"scale":{"domain":[0,1],"range":[146.25,97.5]},"axis":null}},"layer":[{"transform":[{"filter":"datum.part==='outline'"}],"mark":{"type":"area","orient":"horizontal","fill":"#a6cee3","fillOpacity":0.8,"stroke":"#5c5c5c","strokeWidth":1},"encoding":{}},{"transform":[{"filter":"datum.part!=='outline'"}],"mark":{"type":"rule"},"encoding":{"x2":{"datum":0},"stroke":{"condition":{"test":"datum.part==='median'","value":"#1e1e1e"},"value":"#6a6a6a"},"strokeWidth":{"condition":{"test":"datum.part==='median'","value":2},"value":1.5}}}]},
  {"data":{"name":"bias_violins"},"transform":[{"filter":"datum.phase==='Training' && datum.cond==='Schlaf'"}],"encoding":{"x":{"field":"density","type":"quantitative","stack":null,"scale":{"domain":[0,1],"range":[146.25,195]},"axis":null}},"layer":[{"transform":[{"filter":"datum.part==='outline'"}],"mark":{"type":"area","orient":"horizontal","fill":"#a6cee3","fillOpacity":1,"stroke":"#5c5c5c","strokeWidth":1},"encoding":{}},{"transform":[{"filter":"datum.part!=='outline'"}],"mark":{"type":"rule"},"encoding":{"x2":{"datum":0},"stroke":{"condition":{"test":"datum.part==='median'","value":"#1e1e1e"},"value":"#6a6a6a"},"strokeWidth":{"condition":{"test":"datum.part==='median'","value":2},"value":1.5}}}]},
  {"data":{"name":"bias_violins"},"transform":[{"filter":"datum.phase==='Retrieval' && datum.cond==='Wach'"}],"encoding":{"x":{"field":"density","type":"quantitative","stack":null,"scale":{"domain":[0,1],"range":[243.75,195]},"axis":null}},"layer":[{"transform":[{"filter":"datum.part==='outline'"}],"mark":{"type":"area","orient":"horizontal","fill":"#33a02c","fillOpacity":0.8,"stroke":"#5c5c5c","strokeWidth":1},"encoding":{}},{"transform":[{"filter":"datum.part!=='outline'"}],"mark":{"type":"rule"},"encoding":{"x2":{"datum":0},"stroke":{"condition":{"test":"datum.part==='median'","value":"#1e1e1e"},"value":"#6a6a6a"},"strokeWidth":{"condition":{"test":"datum.part==='median'","value":2},"value":1.5}}}]},
  {"data":{"name":"bias_violins"},"transform":[{"filter":"datum.phase==='Retrieval' && datum.cond==='Schlaf'"}],"encoding":{"x":{"field":"density","type":"quantitative","stack":null,"scale":{"domain":[0,1],"range":[243.75,292.5]},"axis":null}},"layer":[{"transform":[{"filter":"datum.part==='outline'"}],"mark":{"type":"area","orient":"horizontal","fill":"#33a02c","fillOpacity":1,"stroke":"#5c5c5c","strokeWidth":1},"encoding":{}},{"transform":[{"filter":"datum.part!=='outline'"}],"mark":{"type":"rule"},"encoding":{"x2":{"datum":0},"stroke":{"condition":{"test":"datum.part==='median'","value":"#1e1e1e"},"value":"#6a6a6a"},"strokeWidth":{"condition":{"test":"datum.part==='median'","value":2},"value":1.5}}}]},
  {"data":{"name":"bias_violins"},"transform":[{"filter":"datum.phase==='Generalization' && datum.cond==='Wach'"}],"encoding":{"x":{"field":"density","type":"quantitative","stack":null,"scale":{"domain":[0,1],"range":[341.25,292.5]},"axis":null}},"layer":[{"transform":[{"filter":"datum.part==='outline'"}],"mark":{"type":"area","orient":"horizontal","fill":"#b2df8a","fillOpacity":0.8,"stroke":"#5c5c5c","strokeWidth":1},"encoding":{}},{"transform":[{"filter":"datum.part!=='outline'"}],"mark":{"type":"rule"},"encoding":{"x2":{"datum":0},"stroke":{"condition":{"test":"datum.part==='median'","value":"#1e1e1e"},"value":"#6a6a6a"},"strokeWidth":{"condition":{"test":"datum.part==='median'","value":2},"value":1.5}}}]},
  {"data":{"name":"bias_violins"},"transform":[{"filter":"datum.phase==='Generalization' && datum.cond==='Schlaf'"}],"encoding":{"x":{"field":"density","type":"quantitative","stack":null,"scale":{"domain":[0,1],"range":[341.25,390]},"axis":null}},"layer":[{"transform":[{"filter":"datum.part==='outline'"}],"mark":{"type":"area","orient":"horizontal","fill":"#b2df8a","fillOpacity":1,"stroke":"#5c5c5c","strokeWidth":1},"encoding":{}},{"transform":[{"filter":"datum.part!=='outline'"}],"mark":{"type":"rule"},"encoding":{"x2":{"datum":0},"stroke":{"condition":{"test":"datum.part==='median'","value":"#1e1e1e"},"value":"#6a6a6a"},"strokeWidth":{"condition":{"test":"datum.part==='median'","value":2},"value":1.5}}}]},
  {"data":{"name":"bias_points"},"mark":{"type":"circle","size":24,"opacity":1,"strokeWidth":0.8},
   "encoding":{"x":{"field":"phase","type":"nominal","scale":{"type":"band","domain":["Baseline","Training","Retrieval","Generalization"],"paddingInner":0,"paddingOuter":0},"axis":{"labelAngle":0}},
    "xOffset":{"field":"cond","type":"nominal","scale":{"type":"point","domain":["Wach","Schlaf"],"range":[36.75,58.75],"padding":0}},
    "fill":{"condition":{"test":"datum.cond==='Wach'","value":"#d4d4d4"},"value":"#4d4d4d"},
    "stroke":{"condition":{"test":"datum.cond==='Wach'","value":"#777777"},"value":"#333333"}}}
 ],
 "resolve":{"scale":{"x":"independent"}}
}
]},
{"width":160,"height":330,"view":{"stroke":null},
 "layer":[
  {"data":{"values":[{"phase":"Baseline"},{"phase":"Training"},{"phase":"Retrieval"},{"phase":"Generalization"}]},
   "encoding":{"y":{"field":"phase","type":"nominal","scale":{"type":"band","domain":["Baseline","Training","Retrieval","Generalization"],"range":[31,217],"paddingInner":0.738,"paddingOuter":0},"axis":null},
    "x":{"datum":0,"type":"quantitative","scale":{"domain":[0,1],"range":[34,160]},"axis":null}},
   "layer":[
    {"mark":{"type":"rect"},"encoding":{"x2":{"datum":1},"fill":{"field":"phase","type":"nominal","scale":{"domain":["Baseline","Training","Retrieval","Generalization"],"range":["#1f78b4","#a6cee3","#33a02c","#b2df8a"]},"legend":null}}},
    {"mark":{"type":"text","align":"left","baseline":"alphabetic","dy":-9,"fontSize":17.5,"color":"#222222"},"encoding":{"y":{"field":"phase","type":"nominal","bandPosition":0},"text":{"field":"phase"}}}
   ]},
  {"data":{"values":[{"cond":"Wach","label":"Wachbedingung"},{"cond":"Schlaf","label":"Schlafbedingung"}]},
   "encoding":{"y":{"field":"cond","type":"nominal","scale":{"type":"point","domain":["Wach","Schlaf"],"range":[259,297],"padding":0},"axis":null},
    "x":{"datum":0,"type":"quantitative","scale":{"domain":[0,1],"range":[0,155]},"axis":null}},
   "layer":[
    {"mark":{"type":"text","align":"left","baseline":"middle","dy":4,"fontSize":15.5,"color":"#111111"},"encoding":{"text":{"field":"label"}}},
    {"mark":{"type":"circle","size":70,"opacity":1,"strokeWidth":1},"encoding":{"x":{"datum":1,"type":"quantitative"},"fill":{"condition":{"test":"datum.cond==='Wach'","value":"#cccccc"},"value":"#505050"},"stroke":{"condition":{"test":"datum.cond==='Wach'","value":"#888888"},"value":"#3a3a3a"}}}
   ]}
 ],
 "resolve":{"scale":{"x":"independent","y":"independent"}}
}
]
}
